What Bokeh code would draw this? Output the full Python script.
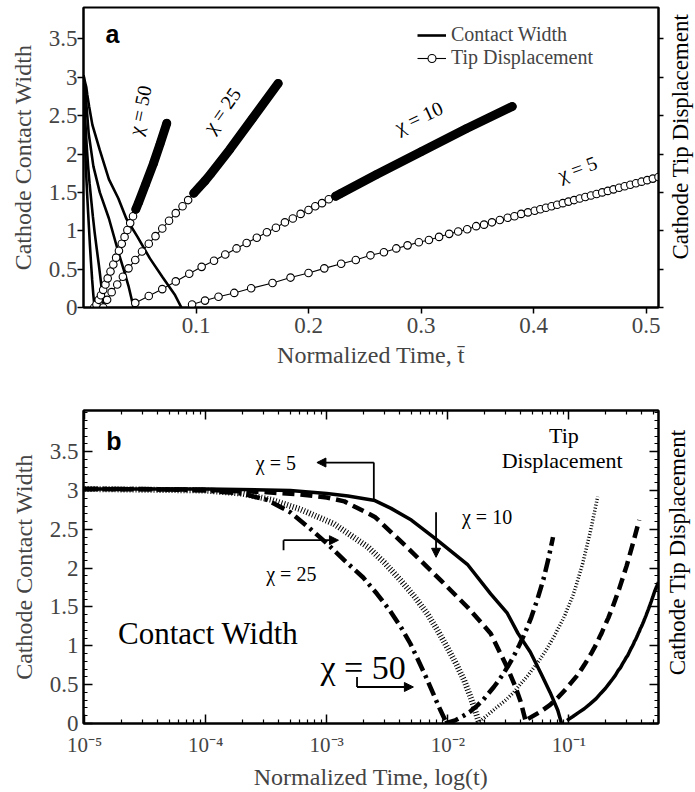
from bokeh.plotting import figure
from bokeh.models import (LinearAxis, LogAxis, Range1d, Label, Legend, LegendItem,
                          Arrow, NormalHead, CustomJSTickFormatter, FixedTicker)
from bokeh.layouts import column, row
from bokeh.embed import file_html
from bokeh.resources import INLINE

# ------------------------------------------------------------------ data
# contact width (decreasing), normalized time
cw5_t = [1e-5, 1e-4, 5e-4, 1e-3, 1.5e-3, 2.5e-3, 3.4e-3, 5e-3, 7.9e-3, 0.0145, 0.0226,
         0.031, 0.038, 0.048, 0.059, 0.070, 0.081, 0.087]
cw5_w = [3.02, 3.02, 3.0, 2.96, 2.93, 2.87, 2.77, 2.62, 2.38, 2.05, 1.67,
         1.42, 1.16, 0.92, 0.64, 0.40, 0.17, 0.0]

cw10_t = [1e-5, 1e-4, 3e-4, 6e-4, 1e-3, 1.4e-3, 2.5e-3, 4.6e-3, 8.8e-3, 0.0145, 0.0226,
          0.031, 0.036, 0.040, 0.0445]
cw10_w = [3.02, 3.01, 2.98, 2.95, 2.91, 2.86, 2.66, 2.27, 1.84, 1.50, 1.16,
          0.72, 0.48, 0.28, 0.0]

cw25_t = [1e-5, 1e-4, 2e-4, 3.5e-4, 6e-4, 1.15e-3, 2.2e-3, 3e-3, 4.1e-3, 5.4e-3, 6.8e-3,
          8.3e-3, 9.9e-3, 0.0118, 0.0137, 0.0155, 0.0168, 0.0182]
cw25_w = [3.02, 3.0, 2.96, 2.88, 2.76, 2.57, 2.27, 2.07, 1.84, 1.62, 1.41,
          1.19, 0.98, 0.76, 0.55, 0.33, 0.17, 0.0]

cw50_t = [1e-5, 3e-5, 1e-4, 2e-4, 3.2e-4, 5e-4, 7.4e-4, 1.0e-3, 1.4e-3, 2.0e-3, 2.6e-3,
          3.3e-3, 4.1e-3, 4.9e-3, 5.6e-3, 6.6e-3, 7.7e-3, 8.7e-3, 9.8e-3]
cw50_w = [3.02, 3.02, 3.0, 2.96, 2.88, 2.72, 2.50, 2.32, 2.10, 1.88, 1.67,
          1.46, 1.24, 1.03, 0.84, 0.60, 0.36, 0.17, 0.0]

# tip displacement (increasing)
td5_t = [0.0965, 0.108, 0.120, 0.134, 0.149, 0.168, 0.184, 0.200, 0.214, 0.229, 0.242,
         0.255, 0.267, 0.278, 0.288, 0.298, 0.307, 0.316, 0.325, 0.333, 0.341, 0.349,
         0.356, 0.363, 0.370, 0.377, 0.383, 0.389, 0.395, 0.401, 0.406, 0.411, 0.416,
         0.421, 0.426, 0.431, 0.436, 0.441, 0.446, 0.451, 0.456, 0.461, 0.466, 0.471,
         0.476, 0.481, 0.486, 0.491, 0.496, 0.501, 0.506, 0.511, 0.520, 0.530, 0.540,
         0.550]
td5_d = [0.04, 0.09, 0.14, 0.19, 0.25, 0.32, 0.39, 0.45, 0.51, 0.57, 0.62,
         0.68, 0.72, 0.77, 0.81, 0.85, 0.88, 0.92, 0.96, 0.99, 1.02, 1.06,
         1.08, 1.11, 1.14, 1.17, 1.19, 1.22, 1.24, 1.26, 1.28, 1.30, 1.32,
         1.34, 1.36, 1.38, 1.40, 1.42, 1.44, 1.46, 1.48, 1.50, 1.52, 1.54,
         1.56, 1.58, 1.60, 1.62, 1.64, 1.66, 1.68, 1.70, 1.73, 1.76, 1.79,
         1.82]

td10_t = [0.046, 0.058, 0.070, 0.082, 0.094, 0.105, 0.116, 0.126, 0.136, 0.145, 0.154,
          0.163, 0.171, 0.179, 0.186, 0.193, 0.200, 0.206, 0.212, 0.218, 0.224, 0.229,
          0.260, 0.300, 0.340, 0.381]
td10_d = [0.06, 0.15, 0.24, 0.34, 0.44, 0.53, 0.61, 0.69, 0.77, 0.84, 0.91,
          0.98, 1.04, 1.11, 1.16, 1.22, 1.27, 1.32, 1.36, 1.41, 1.45, 1.49,
          1.73, 2.03, 2.33, 2.62]

td25_t = [0.0175, 0.021, 0.025, 0.030, 0.035, 0.040, 0.046, 0.052, 0.058, 0.064, 0.070,
          0.076, 0.082, 0.088, 0.093, 0.098, 0.103, 0.108, 0.113, 0.130, 0.150, 0.173]
td25_d = [0.0, 0.10, 0.20, 0.30, 0.40, 0.51, 0.62, 0.73, 0.83, 0.93, 1.03,
          1.13, 1.23, 1.32, 1.40, 1.49, 1.57, 1.65, 1.74, 2.06, 2.46, 2.92]

td50_t = [0.0095, 0.0115, 0.0135, 0.0155, 0.0175, 0.0195, 0.0215, 0.024, 0.0265, 0.029,
          0.0315, 0.034, 0.0365, 0.039, 0.0415, 0.044, 0.0465, 0.049, 0.055, 0.062,
          0.068, 0.074]
td50_d = [0.0, 0.04, 0.10, 0.16, 0.23, 0.30, 0.38, 0.47, 0.56, 0.65,
          0.74, 0.83, 0.92, 1.01, 1.10, 1.19, 1.28, 1.37, 1.60, 1.87,
          2.13, 2.40]

# time from which the plotted markers merge into a solid band (panel a)
band_start = {5: 1.0, 10: 0.224, 25: 0.098, 50: 0.046}

y_ticks = [0, 0.5, 1, 1.5, 2, 2.5, 3, 3.5]
x_ticks_a = [0.1, 0.2, 0.3, 0.4, 0.5]
x_ticks_b = [1e-5, 1e-4, 1e-3, 1e-2, 1e-1]

SERIF = "Liberation Serif"
SANS = "Liberation Sans"
plain_fmt = "return tick.toString();"
blank_fmt = "return '';"

cw = {5: (cw5_t, cw5_w), 10: (cw10_t, cw10_w), 25: (cw25_t, cw25_w), 50: (cw50_t, cw50_w)}
td = {5: (td5_t, td5_d), 10: (td10_t, td10_d), 25: (td25_t, td25_d), 50: (td50_t, td50_d)}


def lab(p, x, y, text, size, angle=0, font=SERIF, style="normal", align="center"):
    p.add_layout(Label(x=x, y=y, text=text, text_font=font, text_font_size=size,
                       text_font_style=style, angle=angle, angle_units="deg",
                       text_align=align, text_baseline="middle", text_color="black"))


def side_title(width, height, x_frac, y_frac):
    """narrow strip holding the right-hand axis title, reading bottom-to-top"""
    s = figure(width=width, height=height, x_range=Range1d(0, 1), y_range=Range1d(0, 1),
               output_backend="svg", toolbar_location=None,
               x_axis_location=None, y_axis_location=None, min_border=0)
    s.xgrid.visible = False
    s.ygrid.visible = False
    s.outline_line_color = None
    lab(s, x_frac, y_frac, "Cathode Tip Displacement", "23px", angle=90)
    return s


# ------------------------------------------------------------------ panel a
p1 = figure(width=664, height=395, x_range=Range1d(0.0, 0.511), y_range=Range1d(0, 3.91),
            output_backend="svg", toolbar_location=None,
            min_border_left=83, min_border_right=6, min_border_top=7, min_border_bottom=88)
p1.xgrid.visible = False
p1.ygrid.visible = False
p1.outline_line_color = "black"
p1.outline_line_width = 2

for k in [5, 10, 25, 50]:
    t, w = cw[k]
    p1.line(t, w, line_width=2.6, line_color="black")

legend_renderers = {}
for k in [5, 10, 25, 50]:
    t, d = td[k]
    ln = p1.line(t, d, line_width=1.1, line_color="black")
    sc = p1.scatter(t, d, marker="circle", size=7.5, fill_color="white",
                    line_color="black", line_width=1.1)
    idx = [i for i, v in enumerate(t) if v >= band_start[k]]
    if idx:
        i0 = idx[0]
        p1.line(t[i0:], d[i0:], line_width=9, line_color="black", line_cap="round")
    legend_renderers[k] = (ln, sc)

cw_leg = p1.line([0.2, 0.3], [-5, -5], line_width=2.6, line_color="black")
legend = Legend(items=[LegendItem(label="Contact Width", renderers=[cw_leg]),
                       LegendItem(label="Tip Displacement", renderers=list(legend_renderers[5]))],
                location=(334, 238), orientation="vertical", padding=0, spacing=0, margin=0,
                glyph_width=29, glyph_height=20, label_height=20, label_standoff=5,
                label_text_font=SERIF, label_text_font_size="20px",
                border_line_alpha=0, background_fill_alpha=0)
p1.add_layout(legend)

xa = p1.xaxis[0]
xa.ticker = FixedTicker(ticks=x_ticks_a)
xa.formatter = CustomJSTickFormatter(code=plain_fmt)
ya = p1.yaxis[0]
ya.ticker = FixedTicker(ticks=y_ticks)
ya.formatter = CustomJSTickFormatter(code=plain_fmt)
for ax in (xa, ya):
    ax.major_tick_out = 6
    ax.major_tick_in = 0
    ax.minor_tick_out = 0
    ax.minor_tick_in = 0
    ax.major_tick_line_width = 1.5
    ax.axis_line_width = 2
    ax.major_label_text_font = SERIF
    ax.major_label_text_font_size = "23px"
    ax.axis_label_text_font = SERIF
    ax.axis_label_text_font_size = "24px"
    ax.axis_label_text_font_style = "normal"
xa.axis_label = "Normalized Time, t\u0304"
xa.major_label_standoff = 4
xa.axis_label_standoff = 6
ya.axis_label = "Cathode Contact Width"
ya.major_label_standoff = 0
ya.axis_label_standoff = 10

ra = LinearAxis(ticker=FixedTicker(ticks=y_ticks), formatter=CustomJSTickFormatter(code=blank_fmt),
                major_label_text_font_size="1px",
                major_tick_out=5, major_tick_in=0, minor_tick_out=0, minor_tick_in=0,
                axis_line_width=2, major_tick_line_width=1.5, major_label_standoff=0)
p1.add_layout(ra, "right")

lab(p1, 0.0257, 3.57, "a", "25px", font=SANS, style="bold")
lab(p1, 0.050, 2.57, "\u03c7 = 50", "20px", angle=78)
lab(p1, 0.123, 2.57, "\u03c7 = 25", "20px", angle=55)
lab(p1, 0.298, 2.48, "\u03c7 = 10", "20px", angle=25)
lab(p1, 0.439, 1.81, "\u03c7 = 5", "20px", angle=20)

s1 = side_title(31, 395, 16 / 31, 1 - 170 / 395)

# ------------------------------------------------------------------ panel b
p2 = figure(width=660, height=397, x_axis_type="log", x_range=Range1d(9.8e-6, 0.55),
            y_range=Range1d(0, 4.03), output_backend="svg", toolbar_location=None,
            min_border_left=83, min_border_right=2, min_border_top=15, min_border_bottom=69)
p2.xgrid.visible = False
p2.ygrid.visible = False
p2.outline_line_color = "black"
p2.outline_line_width = 2

styles = {5: dict(line_dash="solid", line_width=3.5),
          10: dict(line_dash="12 6", line_width=4.5),
          25: dict(line_dash="1 2", line_width=6),
          50: dict(line_dash="14 5 3 5", line_width=4.5)}
td_width = {5: 3.5, 10: 4.5, 25: 3.5, 50: 4.5}
for k in [5, 10, 25, 50]:
    t, w = cw[k]
    p2.line(t, w, line_color="black", **styles[k])
    t, d = td[k]
    st = dict(styles[k])
    st["line_width"] = td_width[k]
    p2.line(t, d, line_color="black", **st)

minor_log = [m * 10.0 ** e for e in range(-6, 1) for m in range(2, 10)]
minor_lin = [i / 10 for i in range(0, 41)]
sup_code = """
const e = Math.round(Math.log10(tick));
const m = {'-':'\u207b','0':'\u2070','1':'\u00b9','2':'\u00b2','3':'\u00b3','4':'\u2074',
           '5':'\u2075','6':'\u2076','7':'\u2077','8':'\u2078','9':'\u2079'};
let s = '';
for (const c of String(e)) { s += m[c]; }
return '10' + s;
"""

xb = p2.xaxis[0]
xb.ticker = FixedTicker(ticks=x_ticks_b, minor_ticks=minor_log)
xb.formatter = CustomJSTickFormatter(code=sup_code)
yb = p2.yaxis[0]
yb.ticker = FixedTicker(ticks=y_ticks, minor_ticks=minor_lin)
yb.formatter = CustomJSTickFormatter(code=plain_fmt)
for ax in (xb, yb):
    ax.major_tick_out = 0
    ax.major_tick_in = 9
    ax.minor_tick_out = 0
    ax.minor_tick_in = 4
    ax.major_tick_line_width = 1.5
    ax.minor_tick_line_width = 1.2
    ax.axis_line_width = 2
    ax.major_label_text_font = SERIF
    ax.axis_label_text_font = SERIF
    ax.axis_label_text_font_size = "24px"
    ax.axis_label_text_font_style = "normal"
xb.major_label_text_font_size = "21px"
yb.major_label_text_font_size = "23px"
xb.axis_label = "Normalized Time, log(t)"
xb.major_label_standoff = 9
xb.axis_label_standoff = 4
yb.axis_label = "Cathode Contact Width"
yb.major_label_standoff = 5
yb.axis_label_standoff = 10

ta = LogAxis(ticker=FixedTicker(ticks=x_ticks_b, minor_ticks=minor_log),
             formatter=CustomJSTickFormatter(code=blank_fmt),
             major_label_text_font_size="1px", major_tick_out=0, major_tick_in=9,
             minor_tick_out=0, minor_tick_in=4, axis_line_width=2,
             major_tick_line_width=1.5, minor_tick_line_width=1.2, major_label_standoff=0)
p2.add_layout(ta, "above")
rb = LinearAxis(ticker=FixedTicker(ticks=y_ticks, minor_ticks=minor_lin),
                formatter=CustomJSTickFormatter(code=blank_fmt),
                major_label_text_font_size="1px", major_tick_out=0, major_tick_in=9,
                minor_tick_out=0, minor_tick_in=4, axis_line_width=2,
                major_tick_line_width=1.5, minor_tick_line_width=1.2, major_label_standoff=0)
p2.add_layout(rb, "right")

lab(p2, 1.75e-5, 3.64, "b", "25px", font=SANS, style="bold")
lab(p2, 1.05e-4, 1.16, "Contact Width", "31px")
lab(p2, 0.091, 3.71, "Tip", "22px")
lab(p2, 0.088, 3.38, "Displacement", "22px")
lab(p2, 3.8e-4, 3.35, "\u03c7 = 5", "20px")
lab(p2, 0.0131, 2.66, "\u03c7 = 10", "20px", align="left")
lab(p2, 5.1e-4, 1.93, "\u03c7 = 25", "20px")
lab(p2, 2.0e-3, 0.72, "\u03c7 = 50", "34px")


def arrow(p, x0, y0, x1, y1):
    p.add_layout(Arrow(end=NormalHead(size=9, fill_color="black", line_color="black"),
                       x_start=x0, y_start=y0, x_end=x1, y_end=y1,
                       line_width=1.8, line_color="black"))


# chi = 5 bracket
p2.line([2.45e-3, 2.45e-3], [2.87, 3.36], line_width=1.8, line_color="black")
arrow(p2, 2.45e-3, 3.36, 8.3e-4, 3.36)
# chi = 10 down arrow
arrow(p2, 8.0e-3, 2.72, 8.0e-3, 2.14)
# chi = 25 bracket
p2.line([4.4e-4, 4.4e-4], [2.23, 2.36], line_width=1.8, line_color="black")
arrow(p2, 4.4e-4, 2.36, 1.25e-3, 2.36)
# chi = 50 bracket
p2.line([1.78e-3, 1.78e-3], [0.60, 0.47], line_width=1.8, line_color="black")
arrow(p2, 1.78e-3, 0.47, 5.2e-3, 0.47)

s2 = side_title(35, 397, 17 / 35, 1 - 180 / 397)

layout = column(row(p1, s1, spacing=0), row(p2, s2, spacing=0), spacing=0)
open("out.html", "w").write(file_html(layout, INLINE))
